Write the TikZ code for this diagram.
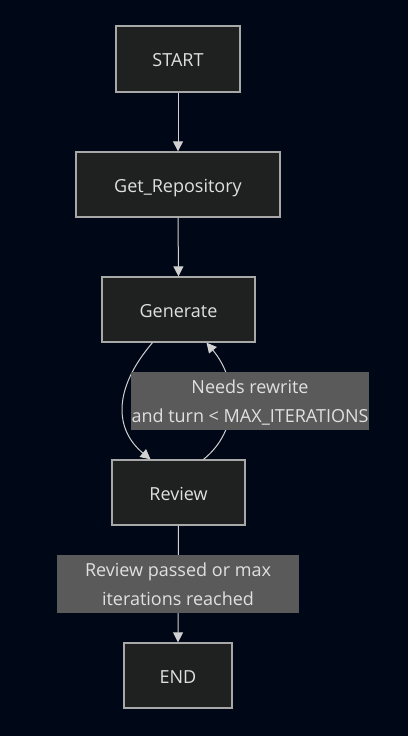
\documentclass[tikz,border=0pt]{standalone}
\usepackage{fontspec}
\setmainfont{Open Sans}
\usetikzlibrary{arrows.meta,calc}
\definecolor{bg}{HTML}{000716}
\definecolor{nodefill}{HTML}{1F2020}
\definecolor{nodeline}{HTML}{A8A8A8}
\definecolor{edgecol}{HTML}{D0D0D0}
\definecolor{lblfill}{HTML}{5A5A5A}
\definecolor{txt}{HTML}{E0E0E0}
\tikzset{
  box/.style={draw=nodeline, fill=nodefill, line width=1.3pt, text=txt, font=\fontsize{18}{22}\selectfont, inner sep=0pt, anchor=center, text height=15.5pt, text depth=0pt},
  lbl/.style={fill=lblfill, text=txt, font=\fontsize{18}{28.5}\selectfont, align=center, inner sep=0pt, text depth=0pt},
  edge/.style={draw=edgecol, line width=1pt, -{Triangle[length=10pt,width=10pt]}}
}
\begin{document}
\begin{tikzpicture}[x=1pt,y=-1pt]
\fill[bg] (0,0) rectangle (408,736);
\useasboundingbox (0,0) rectangle (408,736);
\node[box, minimum width=124pt, minimum height=66pt] (start) at (178,59) {START};
\node[box, minimum width=204pt, minimum height=65pt] (repo) at (178,184.5) {Get\_Repository};
\node[box, minimum width=153pt, minimum height=65pt] (gen) at (178.5,309.5) {Generate};
\node[box, minimum width=133pt, minimum height=65pt] (rev) at (178.5,492.5) {Review};
\node[box, minimum width=108pt, minimum height=65pt] (end) at (178,675.5) {END};
\draw[edge] (start.south) -- (repo.north);
\draw[edge] (repo.south) -- (gen.north);
\draw[edge] ([xshift=-26pt]gen.south) .. controls (112,390) and (115,430) .. ([xshift=-28pt]rev.north);
\draw[edge] ([xshift=25pt]rev.north) .. controls (240,430) and (238,380) .. ([xshift=28pt]gen.south);
\node[lbl, minimum width=238pt, minimum height=58pt] (l1) at (250,401) {Needs rewrite\\and turn < MAX\_ITERATIONS};
\draw[edge] (rev.south) -- (end.north);
\node[lbl, minimum width=242pt, minimum height=58pt] (l2) at (178,584) {Review passed or max\\iterations reached};
\end{tikzpicture}
\end{document}
